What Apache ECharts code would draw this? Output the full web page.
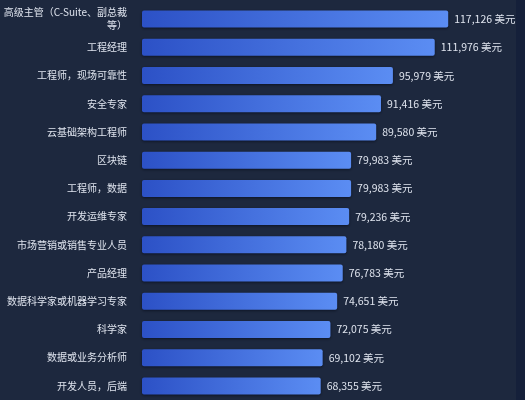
<!DOCTYPE html>
<html>
<head>
<meta charset="utf-8">
<script src="https://cdn.jsdelivr.net/npm/echarts@6/dist/echarts.min.js"></script>
<style>
html,body{margin:0;padding:0;background:#1d283e;}
#chart{width:525px;height:400px;}
</style>
</head>
<body>
<div id="chart"></div>
<script>
const categories = [
  "高级主管（C-Suite、副总裁等）",
  "工程经理",
  "工程师，现场可靠性",
  "安全专家",
  "云基础架构工程师",
  "区块链",
  "工程师，数据",
  "开发运维专家",
  "市场营销或销售专业人员",
  "产品经理",
  "数据科学家或机器学习专家",
  "科学家",
  "数据或业务分析师",
  "开发人员，后端"
];
const salaries = [117126, 111976, 95979, 91416, 89580, 79983, 79983, 79236, 78180, 76783, 74651, 72075, 69102, 68355];
const unit = "美元";

const chart = echarts.init(document.getElementById('chart'), null, {renderer: 'canvas'});
const font = '"Noto Sans CJK SC", "Noto Sans", sans-serif';
chart.setOption({
  backgroundColor: '#1d283e',
  animation: false,
  graphic: [{
    type: 'rect',
    right: 0, top: 0,
    shape: {width: 9, height: 400},
    style: {fill: '#15203a'},
    silent: true
  }],
  grid: {left: 138, top: 5, height: 396, right: 17, containLabel: false},
  xAxis: {
    type: 'value', min: 0, max: 140000, show: false,
    splitLine: {show: false}
  },
  yAxis: {
    type: 'category', data: categories, inverse: true,
    axisLine: {show: false}, axisTick: {show: false},
    axisLabel: {
      color: '#dfe4ee', fontSize: 10, fontFamily: font, margin: 15,
      width: 124, overflow: 'break', lineHeight: 13, align: 'right'
    }
  },
  series: [{
    type: 'bar',
    data: salaries,
    barWidth: 17,
    itemStyle: {
      borderRadius: 2,
      color: new echarts.graphic.LinearGradient(0, 0, 1, 0, [
        {offset: 0, color: '#2c51c6'},
        {offset: 1, color: '#5b8df3'}
      ]),
      shadowColor: 'rgba(5,10,25,0.7)',
      shadowBlur: 3,
      shadowOffsetY: 1
    },
    label: {
      show: true, position: 'right', distance: 6,
      color: '#dfe4ee', fontSize: 10.5, fontFamily: font,
      formatter: p => p.value.toLocaleString('en-US') + ' ' + unit
    }
  }]
});
</script>
</body>
</html>
